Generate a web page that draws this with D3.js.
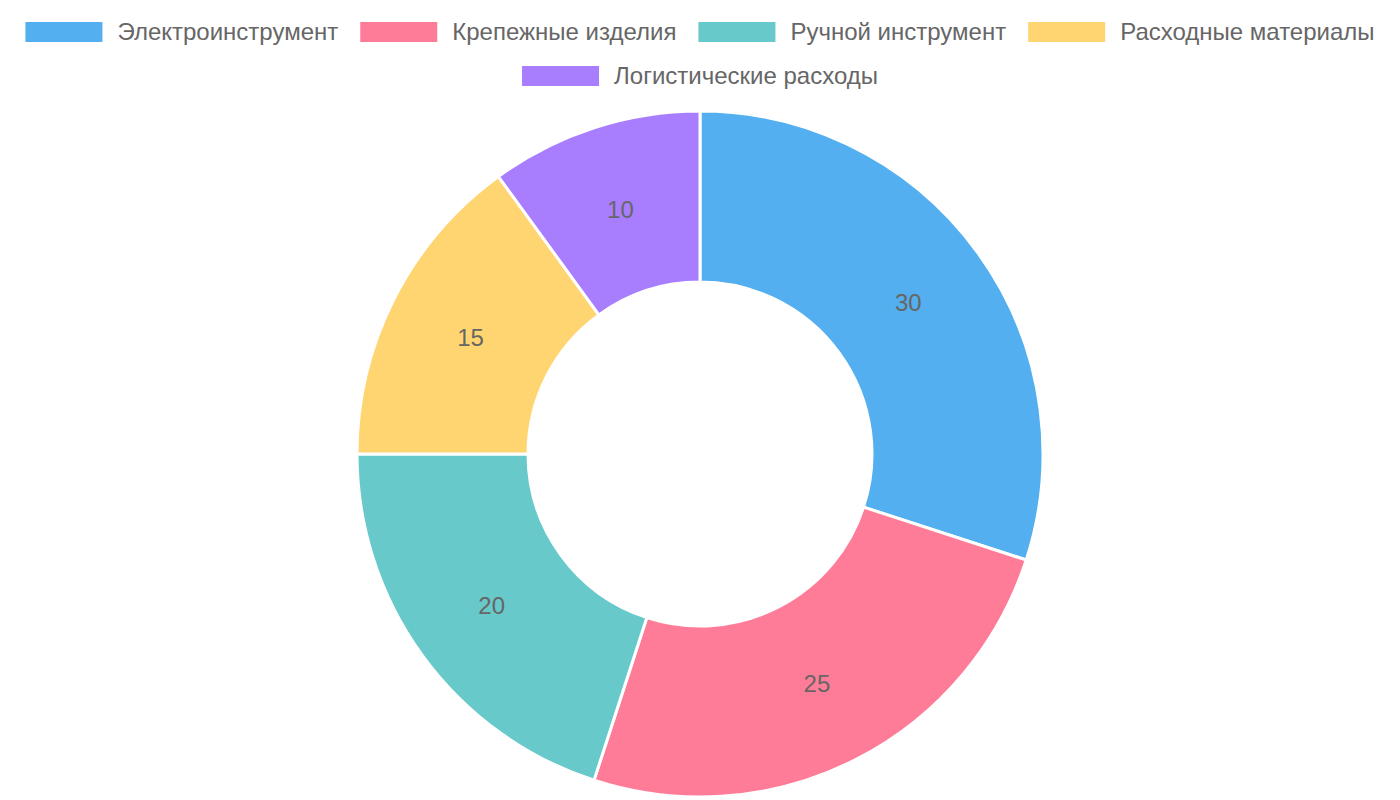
<!DOCTYPE html>
<html>
<head>
<meta charset="utf-8">
<script src="https://cdn.jsdelivr.net/npm/d3@7"></script>
<style>
  body { margin: 0; background: #fff; }
  .legend-label { font-family: "Liberation Sans", Arial, sans-serif; font-size: 24px; fill: #666; }
  .slice-label { font-family: "Liberation Sans", Arial, sans-serif; font-size: 24px; fill: #666; }
</style>
</head>
<body>
<script>
const categories = ["Электроинструмент", "Крепежные изделия", "Ручной инструмент", "Расходные материалы", "Логистические расходы"];
const values = [30, 25, 20, 15, 10];
const colors = ["#53AFEF", "#FF7C98", "#67C9C9", "#FFD572", "#A87EFE"];

const width = 1400, height = 800;
const cx = 700, cy = 454;
const outerR = 343, innerR = 172;

let svg = d3.select("body")
    .append("svg")
    .attr("width", width)
    .attr("height", height);

let data = categories.map((c, i) => ({ name: c, value: values[i], color: colors[i] }));

// legend, wrapped into centered rows
let legend = svg.append("g");
let items = legend.selectAll("g")
    .data(data)
    .enter()
    .append("g");
items.append("rect")
    .attr("width", 77)
    .attr("height", 20)
    .attr("y", -10)
    .attr("fill", d => d.color);
items.append("text")
    .attr("class", "legend-label")
    .attr("x", 92)
    .attr("dy", "0.35em")
    .text(d => d.name);

let rows = [[]], rowW = [0];
const gap = 22, maxW = 1385;
items.each(function (d) {
    let w = 92 + d3.select(this).select("text").node().getComputedTextLength();
    d.w = w;
    let r = rows.length - 1;
    let need = rowW[r] + (rows[r].length ? gap : 0) + w;
    if (rows[r].length && need > maxW) {
        rows.push([]);
        rowW.push(0);
        r++;
        need = w;
    }
    rows[r].push(this);
    rowW[r] = need;
});
rows.forEach((row, r) => {
    let x = (width - rowW[r]) / 2;
    row.forEach(node => {
        let d = d3.select(node).datum();
        d3.select(node).attr("transform", `translate(${x},${32 + r * 44})`);
        x += d.w + gap;
    });
});

// doughnut
let pie = d3.pie().sort(null).value(d => d.value);
let arc = d3.arc().innerRadius(innerR).outerRadius(outerR);
let labelArc = d3.arc().innerRadius((innerR + outerR) / 2).outerRadius((innerR + outerR) / 2);

let g = svg.append("g").attr("transform", `translate(${cx},${cy})`);
g.selectAll("path")
    .data(pie(data))
    .enter()
    .append("path")
    .attr("d", arc)
    .attr("fill", d => d.data.color)
    .attr("stroke", "#fff")
    .attr("stroke-width", 3)
    .attr("stroke-linejoin", "miter");

g.selectAll(".slice-label")
    .data(pie(data))
    .enter()
    .append("text")
    .attr("class", "slice-label")
    .attr("transform", d => `translate(${labelArc.centroid(d)})`)
    .attr("text-anchor", "middle")
    .attr("dy", "0.35em")
    .text(d => d.data.value);
</script>
</body>
</html>
